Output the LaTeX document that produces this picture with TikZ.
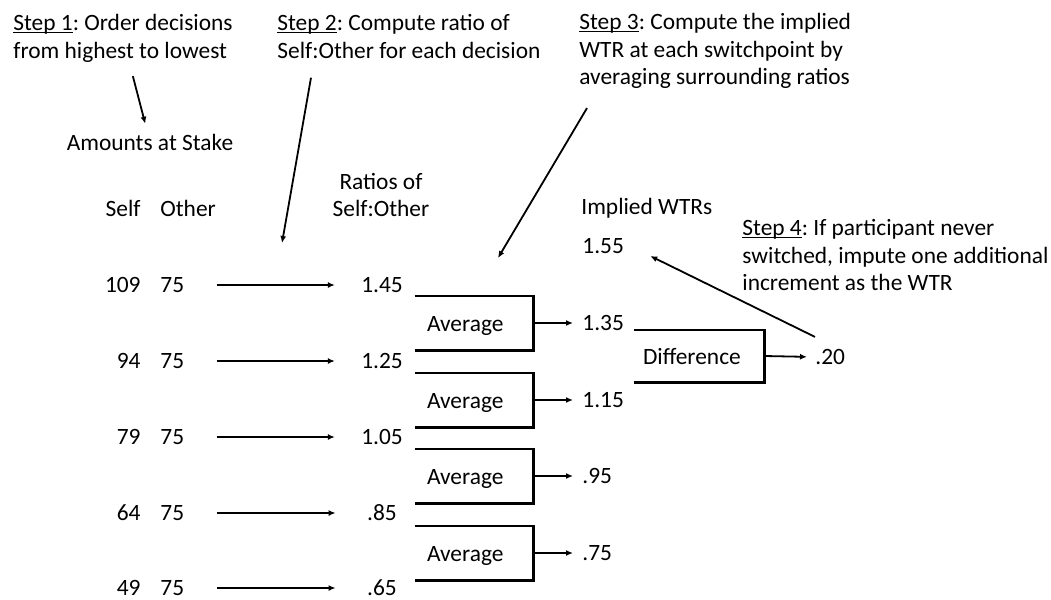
\documentclass[tikz,border=0pt]{standalone}
\usepackage{fontspec}
\setmainfont{Carlito}
\usetikzlibrary{arrows.meta}
\frenchspacing
\newcommand\steplabel[1]{\setbox0\hbox{#1}\rlap{\rule[-1.4pt]{\wd0}{0.5pt}}#1}

\begin{document}
\begin{tikzpicture}[x=0.5pt, y=-0.5pt,
    font=\fontsize{11.7}{13.75}\selectfont,
    lbl/.style={inner sep=0pt},
    ratio/.style={inner sep=0pt, minimum width=20pt},
    pointer/.style={-{Latex[length=3.5pt,width=3pt]}, line width=0.9pt},
    avgbox/.style={inner xsep=6pt, inner ysep=0pt, text width=47pt, align=left, minimum height=27pt, text height=8pt, text depth=0pt},
    diffbox/.style={inner xsep=4.5pt, inner ysep=0pt, text width=56pt, align=left, minimum height=26pt, text height=8pt, text depth=0pt},
    bracket/.style={line width=1.1pt}]
  \useasboundingbox (0,0) rectangle (1051,600);

  % Step notes
  \node[lbl, anchor=north west, align=left] (step1) at (13,14) {\steplabel{Step 1}: Order decisions\\from highest to lowest};
  \node[lbl, anchor=north west, align=left] (step2) at (277,14) {\steplabel{Step 2}: Compute ratio of\\Self:Other for each decision};
  \node[lbl, anchor=north west, align=left] (step3) at (579,13) {\steplabel{Step 3}: Compute the implied\\WTR at each switchpoint by\\averaging surrounding ratios};
  \node[lbl, anchor=north west, align=left] (step4) at (742,219) {\steplabel{Step 4}: If participant never\\switched, impute one additional\\increment as the WTR};

  % Headers
  \node[lbl] (amounts) at (150,142) {Amounts at Stake};
  \node[lbl, anchor=east] (selfhd) at (141,208) {Self};
  \node[lbl, anchor=west] (otherhd) at (160,208) {Other};
  \node[lbl, align=center] (ratiohd) at (381,195) {Ratios of\\Self:Other};
  \node[lbl, anchor=west] (wtrhd) at (581,208) {Implied WTRs};

  % Decisions and ratios
  \node[lbl, anchor=east] (s1) at (141,285) {109};
  \node[lbl, anchor=west] (o1) at (160,285) {75};
  \node[ratio] (r1) at (382,285) {1.45};
  \node[lbl, anchor=east] (s2) at (141,361) {94};
  \node[lbl, anchor=west] (o2) at (160,361) {75};
  \node[ratio] (r2) at (382,361) {1.25};
  \node[lbl, anchor=east] (s3) at (141,437) {79};
  \node[lbl, anchor=west] (o3) at (160,437) {75};
  \node[ratio] (r3) at (382,437) {1.05};
  \node[lbl, anchor=east] (s4) at (141,513) {64};
  \node[lbl, anchor=west] (o4) at (160,513) {75};
  \node[ratio] (r4) at (382,513) {.85};
  \node[lbl, anchor=east] (s5) at (141,588) {49};
  \node[lbl, anchor=west] (o5) at (160,588) {75};
  \node[ratio] (r5) at (382,588) {.65};

  \draw[pointer, shorten <=16pt, shorten >=13pt] (o1.east) -- (r1.west);
  \draw[pointer, shorten <=16pt, shorten >=13pt] (o2.east) -- (r2.west);
  \draw[pointer, shorten <=16pt, shorten >=13pt] (o3.east) -- (r3.west);
  \draw[pointer, shorten <=16pt, shorten >=13pt] (o4.east) -- (r4.west);
  \draw[pointer, shorten <=16pt, shorten >=13pt] (o5.east) -- (r5.west);

  % Averages
  \node[avgbox] (avg1) at (474,323) {Average};
  \node[avgbox] (avg2) at (474,400) {Average};
  \node[avgbox] (avg3) at (474,476) {Average};
  \node[avgbox] (avg4) at (474,553) {Average};
  \draw[bracket] (avg1.north west) -- (avg1.north east) -- (avg1.south east) -- (avg1.south west);
  \draw[bracket] (avg2.north west) -- (avg2.north east) -- (avg2.south east) -- (avg2.south west);
  \draw[bracket] (avg3.north west) -- (avg3.north east) -- (avg3.south east) -- (avg3.south west);
  \draw[bracket] (avg4.north west) -- (avg4.north east) -- (avg4.south east) -- (avg4.south west);

  % Implied WTRs
  \node[lbl, anchor=west] (w0) at (582,246) {1.55};
  \node[lbl, anchor=west] (w1) at (582,323) {1.35};
  \node[lbl, anchor=west] (w2) at (582,400) {1.15};
  \node[lbl, anchor=west] (w3) at (582,476) {.95};
  \node[lbl, anchor=west] (w4) at (582,553) {.75};
  \draw[pointer, shorten >=4.5pt] (avg1.east) -- (w1.west);
  \draw[pointer, shorten >=4.5pt] (avg2.east) -- (w2.west);
  \draw[pointer, shorten >=4.5pt] (avg3.east) -- (w3.west);
  \draw[pointer, shorten >=4.5pt] (avg4.east) -- (w4.west);

  % Difference
  \node[diffbox] (diff) at (699,356) {Difference};
  \node[lbl, anchor=west] (incr) at (815,357) {.20};
  \draw[bracket] (diff.north west) -- (diff.north east) -- (diff.south east) -- (diff.south west);
  \draw[pointer, shorten >=4pt] (diff.east) -- (incr.west);

  % Step arrows
  \coordinate (ratiocol) at (282,243);
  \coordinate (avgcol) at (498,258);
  \draw[pointer, shorten <=7pt, shorten >=5pt] (step1) -- (amounts);
  \draw[pointer] ([shift={(17pt,-9.5pt)}]step2.south west) -- (ratiocol);
  \draw[pointer] ([shift={(4pt,-9.5pt)}]step3.south west) -- (avgcol);
  \draw[pointer] ([yshift=6pt]incr.north west) -- ([shift={(13pt,-5pt)}]w0.east);
\end{tikzpicture}
\end{document}
